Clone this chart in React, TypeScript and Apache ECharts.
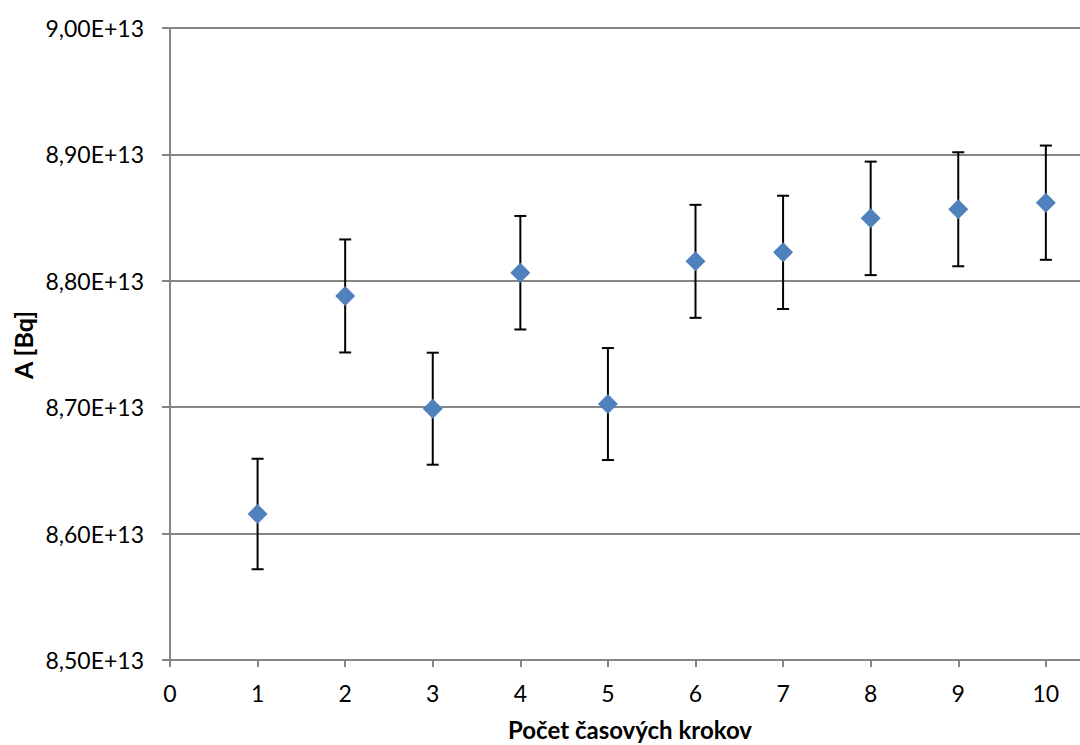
import React, { useEffect, useRef } from "react";
import * as echarts from "echarts";

// Number of time steps
const steps = [1, 2, 3, 4, 5, 6, 7, 8, 9, 10];
// Activity A [Bq]
const activity = [
  8.6155e13, 8.788e13, 8.6988e13, 8.8064e13, 8.7025e13,
  8.8154e13, 8.8225e13, 8.8494e13, 8.8566e13, 8.8618e13,
];
// Symmetric uncertainty of the activity [Bq]
const uncertainty = [
  0.0437e13, 0.0447e13, 0.0443e13, 0.0449e13, 0.0443e13,
  0.0447e13, 0.0448e13, 0.0449e13, 0.0451e13, 0.0452e13,
];

const FONT = "Lato, 'Open Sans', sans-serif";

function sciLabel(v: number): string {
  const [m, e] = v.toExponential(2).split("e");
  const exp = e.replace("+", "");
  return `${m.replace(".", ",")}E+${exp}`;
}

export default function App() {
  const ref = useRef<HTMLDivElement>(null);

  useEffect(() => {
    if (!ref.current) return;
    const chart = echarts.init(ref.current, null, { renderer: "svg" });

    const errData = steps.map((s, i) => [s, activity[i] - uncertainty[i], activity[i] + uncertainty[i]]);

    chart.setOption({
      animation: false,
      grid: { left: 170, right: 0, top: 28, bottom: 85, containLabel: false },
      xAxis: {
        type: "value",
        min: 0,
        max: 10.39,
        interval: 1,
        axisLine: { show: true, lineStyle: { color: "#868686", width: 2 } },
        axisTick: { show: true, inside: false, length: 7, lineStyle: { color: "#868686", width: 2 } },
        axisLabel: {
          margin: 21,
          fontSize: 23,
          color: "#000",
          fontFamily: FONT,
          showMaxLabel: false,
          formatter: (v: number) => (Number.isInteger(v) ? String(v) : ""),
        },
        splitLine: { show: false },
      },
      yAxis: {
        type: "value",
        min: 8.5e13,
        max: 9.0e13,
        interval: 0.1e13,
        axisLine: { show: true, lineStyle: { color: "#868686", width: 2 } },
        axisTick: { show: true, inside: false, length: 8, lineStyle: { color: "#868686", width: 2 } },
        axisLabel: {
          margin: 26,
          fontSize: 23,
          color: "#000",
          fontFamily: FONT,
          formatter: (v: number) => sciLabel(v),
        },
        splitLine: { show: true, lineStyle: { color: "#868686", width: 2 } },
      },
      graphic: [
        {
          type: "text",
          x: 630,
          y: 717,
          style: {
            text: "Počet časových krokov",
            font: `bold 24px ${FONT}`,
            lineHeight: 24,
            fill: "#000",
            align: "center",
            verticalAlign: "top",
          },
        },
        {
          type: "text",
          x: 23,
          y: 345,
          rotation: Math.PI / 2,
          style: {
            text: "A [Bq]",
            font: `bold 25px ${FONT}`,
            fill: "#000",
            align: "center",
            verticalAlign: "middle",
          },
        },
      ],
      series: [
        {
          type: "custom",
          name: "error",
          data: errData,
          encode: { x: 0, y: [1, 2] },
          z: 2,
          renderItem: (params: any, api: any) => {
            const x = api.value(0);
            const lo = api.coord([x, api.value(1)]);
            const hi = api.coord([x, api.value(2)]);
            const half = 6;
            const style = { stroke: "#000", lineWidth: 2 };
            return {
              type: "group",
              children: [
                { type: "line", shape: { x1: lo[0], y1: lo[1], x2: hi[0], y2: hi[1] }, style },
                { type: "line", shape: { x1: hi[0] - half, y1: hi[1], x2: hi[0] + half, y2: hi[1] }, style },
                { type: "line", shape: { x1: lo[0] - half, y1: lo[1], x2: lo[0] + half, y2: lo[1] }, style },
              ],
            };
          },
        },
        {
          type: "scatter",
          name: "A",
          data: steps.map((s, i) => [s, activity[i]]),
          symbol: "diamond",
          symbolSize: 20,
          itemStyle: { color: "#4F81BD", opacity: 1 },
          emphasis: { disabled: true },
          z: 3,
        },
      ],
    });

    return () => chart.dispose();
  }, []);

  return (
    <div
      ref={ref}
      style={{ position: "absolute", left: 0, top: 0, width: 1080, height: 745 }}
    />
  );
}
